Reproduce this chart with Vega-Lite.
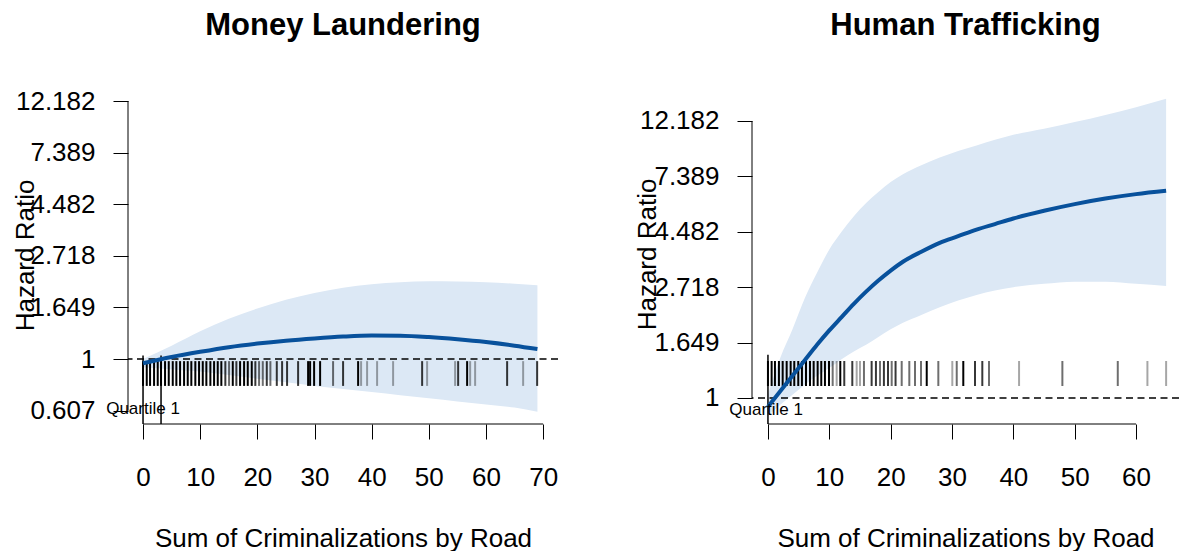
{
  "$schema": "https://vega.github.io/schema/vega-lite/v6.json",
  "padding": {"left": 12, "top": 9, "right": 0, "bottom": 0},
  "background": "white",
  "spacing": 194,
  "bounds": "flush",
  "config": {"font": "Liberation Sans", "view": {"stroke": null}},
  "datasets": {
    "ml_curve": [
      {"v": 0, "fit": -0.04, "lower": -0.08, "upper": 0.0},
      {"v": 5, "fit": 0.02, "lower": -0.1, "upper": 0.13},
      {"v": 10, "fit": 0.07, "lower": -0.12, "upper": 0.27},
      {"v": 15, "fit": 0.115, "lower": -0.155, "upper": 0.39},
      {"v": 20, "fit": 0.15, "lower": -0.19, "upper": 0.49},
      {"v": 25, "fit": 0.178, "lower": -0.225, "upper": 0.575},
      {"v": 30, "fit": 0.2, "lower": -0.26, "upper": 0.64},
      {"v": 35, "fit": 0.218, "lower": -0.29, "upper": 0.69},
      {"v": 40, "fit": 0.228, "lower": -0.32, "upper": 0.725},
      {"v": 45, "fit": 0.226, "lower": -0.35, "upper": 0.745},
      {"v": 50, "fit": 0.213, "lower": -0.38, "upper": 0.754},
      {"v": 55, "fit": 0.192, "lower": -0.41, "upper": 0.752},
      {"v": 60, "fit": 0.165, "lower": -0.44, "upper": 0.745},
      {"v": 65, "fit": 0.13, "lower": -0.47, "upper": 0.73},
      {"v": 69, "fit": 0.097, "lower": -0.51, "upper": 0.716}
    ],
    "ml_rug": [
      {"v":0,"n":4},{"v":0.65,"n":4},{"v":1.23,"n":4},{"v":1.93,"n":4},{"v":2.57,"n":4},{"v":3.15,"n":4},{"v":3.85,"n":4},{"v":4.5,"n":4},{"v":5.2,"n":4},{"v":5.83,"n":4},{"v":6.48,"n":4},{"v":7.18,"n":4},{"v":7.82,"n":4},{"v":8.45,"n":4},{"v":9.15,"n":4},{"v":9.8,"n":4},{"v":10.45,"n":4},{"v":11.08,"n":4},{"v":11.78,"n":4},{"v":12.43,"n":4},{"v":13.07,"n":4},{"v":13.7,"n":4},{"v":14.4,"n":3},{"v":15.05,"n":2},{"v":15.7,"n":4},{"v":16.33,"n":3},{"v":16.98,"n":4},{"v":17.68,"n":4},{"v":18.32,"n":4},{"v":19.02,"n":4},{"v":19.65,"n":3},{"v":20.3,"n":2},{"v":20.95,"n":2},{"v":21.65,"n":3},{"v":22.28,"n":2},{"v":23.4,"n":3},{"v":24.33,"n":3},{"v":25.2,"n":3},{"v":27.13,"n":3},{"v":28.88,"n":4},{"v":29.23,"n":4},{"v":29.93,"n":4},{"v":30.98,"n":4},{"v":33.25,"n":2},{"v":35.0,"n":3},{"v":37.63,"n":4},{"v":38.15,"n":1},{"v":39.2,"n":1},{"v":40.95,"n":1},{"v":43.75,"n":1},{"v":48.83,"n":3},{"v":49.7,"n":1},{"v":54.6,"n":1},{"v":55.13,"n":3},{"v":56.7,"n":4},{"v":57.23,"n":1},{"v":58.1,"n":1},{"v":63.7,"n":3},{"v":66.5,"n":1},{"v":68.95,"n":3}
    ],
    "ml_quart": [{"v": 0}, {"v": 3.15}],
    "ht_curve": [
      {"v": 0, "fit": -0.08, "lower": -0.16, "upper": 0.03},
      {"v": 2, "fit": 0.06, "lower": -0.06, "upper": 0.36},
      {"v": 4, "fit": 0.2, "lower": 0.03, "upper": 0.62},
      {"v": 6, "fit": 0.34, "lower": 0.12, "upper": 0.9},
      {"v": 8, "fit": 0.48, "lower": 0.2, "upper": 1.13},
      {"v": 10, "fit": 0.61, "lower": 0.27, "upper": 1.34},
      {"v": 12, "fit": 0.73, "lower": 0.35, "upper": 1.5},
      {"v": 14, "fit": 0.85, "lower": 0.42, "upper": 1.64},
      {"v": 16, "fit": 0.96, "lower": 0.48, "upper": 1.76},
      {"v": 18, "fit": 1.06, "lower": 0.55, "upper": 1.86},
      {"v": 20, "fit": 1.15, "lower": 0.62, "upper": 1.95},
      {"v": 22, "fit": 1.23, "lower": 0.68, "upper": 2.02},
      {"v": 25, "fit": 1.32, "lower": 0.75, "upper": 2.1},
      {"v": 28, "fit": 1.4, "lower": 0.82, "upper": 2.17},
      {"v": 31, "fit": 1.46, "lower": 0.88, "upper": 2.23},
      {"v": 34, "fit": 1.52, "lower": 0.93, "upper": 2.28},
      {"v": 37, "fit": 1.57, "lower": 0.97, "upper": 2.33},
      {"v": 40, "fit": 1.62, "lower": 1.0, "upper": 2.375},
      {"v": 45, "fit": 1.69, "lower": 1.03, "upper": 2.43},
      {"v": 50, "fit": 1.75, "lower": 1.05, "upper": 2.49},
      {"v": 55, "fit": 1.8, "lower": 1.05, "upper": 2.555},
      {"v": 60, "fit": 1.84, "lower": 1.03, "upper": 2.625},
      {"v": 64.9, "fit": 1.87, "lower": 1.01, "upper": 2.7}
    ],
    "ht_rug": [
      {"v":0,"n":4},{"v":0.6,"n":4},{"v":1.14,"n":4},{"v":1.79,"n":4},{"v":2.4,"n":4},{"v":3.05,"n":4},{"v":3.7,"n":4},{"v":4.29,"n":4},{"v":4.94,"n":4},{"v":5.54,"n":4},{"v":6.2,"n":4},{"v":6.85,"n":4},{"v":7.45,"n":4},{"v":8.1,"n":4},{"v":8.69,"n":4},{"v":9.29,"n":4},{"v":9.95,"n":4},{"v":10.55,"n":2},{"v":11.2,"n":1},{"v":11.79,"n":4},{"v":12.44,"n":3},{"v":13.75,"n":3},{"v":14.46,"n":1},{"v":15.0,"n":1},{"v":15.65,"n":2},{"v":16.9,"n":3},{"v":17.6,"n":3},{"v":18.26,"n":2},{"v":18.9,"n":3},{"v":19.57,"n":3},{"v":20.17,"n":2},{"v":20.8,"n":3},{"v":21.8,"n":2},{"v":23.04,"n":2},{"v":23.97,"n":2},{"v":24.95,"n":2},{"v":25.88,"n":4},{"v":27.77,"n":2},{"v":30.05,"n":1},{"v":30.77,"n":2},{"v":31.84,"n":4},{"v":33.75,"n":3},{"v":34.94,"n":3},{"v":36.03,"n":2},{"v":40.93,"n":1},{"v":47.99,"n":2},{"v":57.02,"n":2},{"v":61.85,"n":1},{"v":64.9,"n":1}
    ],
    "ht_quart": [{"v": 0}]
  },
  "hconcat": [
    {
      "width": 430,
      "height": 323,
      "title": {"text": "Money Laundering", "fontSize": 31, "fontWeight": "bold", "anchor": "middle", "baseline": "alphabetic", "offset": 22, "color": "black"},
      "layer": [
        {
          "data": {"name": "ml_curve"},
          "mark": {"type": "area", "color": "#DCE8F5", "interpolate": "monotone"},
          "encoding": {
            "x": {"field": "v", "type": "quantitative", "scale": {"domain": [-2.63, 72.6], "nice": false, "zero": false},
              "axis": {"values": [0,10,20,30,40,50,60,70], "domain": false, "grid": false, "tickSize": 15, "tickColor": "black", "tickWidth": 1, "labelFontSize": 26, "labelColor": "black", "labelBaseline": "alphabetic", "labelPadding": 46, "labelFlush": false, "labelOverlap": false, "title": "Sum of Criminalizations by Road", "titleFontSize": 26, "titleFontWeight": "normal", "titleColor": "black", "titleY": 122, "titleBaseline": "alphabetic"}},
            "y": {"field": "lower", "type": "quantitative", "scale": {"domain": [-0.629, 2.5], "nice": false, "zero": false},
              "axis": {"values": [-0.5,0,0.5,1,1.5,2,2.5], "labelExpr": "datum.value == 0 ? '1' : format(exp(datum.value), '.3f')", "domain": false, "grid": false, "tickSize": 15, "tickColor": "black", "tickWidth": 1, "labelFontSize": 26, "labelColor": "black", "labelPadding": 18, "labelBaseline": "middle", "labelAlign": "right", "labelFlush": false, "labelOverlap": false, "title": "Hazard Ratio", "titleFontSize": 26, "titleFontWeight": "normal", "titleColor": "black", "titleX": -103, "titleY": 154, "titleAngle": 270, "titleBaseline": "middle", "titleAlign": "center"}},
            "y2": {"field": "upper"}
          }
        },
        {
          "data": {"values": [{}]},
          "mark": {"type": "rule", "strokeDash": [7, 4.5], "strokeWidth": 1.5, "color": "black"},
          "encoding": {"y": {"datum": 0}}
        },
        {
          "data": {"name": "ml_rug"},
          "mark": {"type": "rule", "strokeWidth": 2, "color": "black"},
          "encoding": {
            "x": {"field": "v", "type": "quantitative"},
            "y": {"datum": -0.02},
            "y2": {"datum": -0.26},
            "opacity": {"field": "n", "type": "quantitative", "scale": {"domain": [1, 4], "range": [0.35, 1], "clamp": true}, "legend": null}
          }
        },
        {
          "data": {"name": "ml_quart"},
          "mark": {"type": "rule", "strokeWidth": 1.5, "color": "black"},
          "encoding": {
            "x": {"field": "v", "type": "quantitative"},
            "y": {"datum": -0.629},
            "y2": {"datum": 0.035}
          }
        },
        {
          "data": {"name": "ml_curve"},
          "mark": {"type": "line", "color": "#08519C", "strokeWidth": 4, "interpolate": "monotone"},
          "encoding": {
            "x": {"field": "v", "type": "quantitative"},
            "y": {"field": "fit", "type": "quantitative"}
          }
        },
        {
          "data": {"values": [{"label": "Quartile 1"}]},
          "mark": {"type": "text", "fontSize": 17, "baseline": "alphabetic", "align": "center", "color": "black"},
          "encoding": {"x": {"datum": 0}, "y": {"datum": -0.532}, "text": {"field": "label"}}
        },
        {
          "data": {"values": [{}]},
          "mark": {"type": "rule", "color": "black", "strokeWidth": 1},
          "encoding": {"x": {"datum": -2.63}, "y": {"datum": -0.5}, "y2": {"datum": 2.5}}
        },
        {
          "data": {"values": [{}]},
          "mark": {"type": "rule", "color": "black", "strokeWidth": 1},
          "encoding": {"x": {"datum": 0}, "x2": {"datum": 70}, "y": {"datum": -0.629}}
        }
      ]
    },
    {
      "width": 427,
      "height": 323,
      "title": {"text": "Human Trafficking", "fontSize": 31, "fontWeight": "bold", "anchor": "middle", "baseline": "alphabetic", "offset": 33, "color": "black"},
      "layer": [
        {
          "data": {"name": "ht_curve"},
          "mark": {"type": "area", "color": "#DCE8F5", "interpolate": "monotone"},
          "encoding": {
            "x": {"field": "v", "type": "quantitative", "scale": {"domain": [-2.6, 67], "nice": false, "zero": false},
              "axis": {"values": [0,10,20,30,40,50,60], "domain": false, "grid": false, "tickSize": 15, "tickColor": "black", "tickWidth": 1, "labelFontSize": 26, "labelColor": "black", "labelBaseline": "alphabetic", "labelPadding": 46, "labelFlush": false, "labelOverlap": false, "title": "Sum of Criminalizations by Road", "titleFontSize": 26, "titleFontWeight": "normal", "titleColor": "black", "titleY": 122, "titleBaseline": "alphabetic"}},
            "y": {"field": "lower", "type": "quantitative", "scale": {"domain": [-0.2347, 2.6805], "nice": false, "zero": false},
              "axis": {"values": [0,0.5,1,1.5,2,2.5], "labelExpr": "datum.value == 0 ? '1' : format(exp(datum.value), '.3f')", "domain": false, "grid": false, "tickSize": 15, "tickColor": "black", "tickWidth": 1, "labelFontSize": 26, "labelColor": "black", "labelPadding": 18, "labelBaseline": "middle", "labelAlign": "right", "labelFlush": false, "labelOverlap": false, "title": "Hazard Ratio", "titleFontSize": 26, "titleFontWeight": "normal", "titleColor": "black", "titleX": -105, "titleY": 153, "titleAngle": 270, "titleBaseline": "middle", "titleAlign": "center"}},
            "y2": {"field": "upper"}
          }
        },
        {
          "data": {"values": [{}]},
          "mark": {"type": "rule", "strokeDash": [7, 4.5], "strokeWidth": 1.5, "color": "black"},
          "encoding": {"y": {"datum": 0}}
        },
        {
          "data": {"name": "ht_rug"},
          "mark": {"type": "rule", "strokeWidth": 2, "color": "black"},
          "encoding": {
            "x": {"field": "v", "type": "quantitative"},
            "y": {"datum": 0.334},
            "y2": {"datum": 0.108},
            "opacity": {"field": "n", "type": "quantitative", "scale": {"domain": [1, 4], "range": [0.35, 1], "clamp": true}, "legend": null}
          }
        },
        {
          "data": {"name": "ht_quart"},
          "mark": {"type": "rule", "strokeWidth": 1.5, "color": "black"},
          "encoding": {
            "x": {"field": "v", "type": "quantitative"},
            "y": {"datum": -0.2347},
            "y2": {"datum": 0.39}
          }
        },
        {
          "data": {"name": "ht_curve"},
          "mark": {"type": "line", "color": "#08519C", "strokeWidth": 4, "interpolate": "monotone"},
          "encoding": {
            "x": {"field": "v", "type": "quantitative"},
            "y": {"field": "fit", "type": "quantitative"}
          }
        },
        {
          "data": {"values": [{"label": "Quartile 1"}]},
          "mark": {"type": "text", "fontSize": 17, "baseline": "alphabetic", "align": "center", "color": "black"},
          "encoding": {"x": {"datum": -0.3}, "y": {"datum": -0.153}, "text": {"field": "label"}}
        },
        {
          "data": {"values": [{}]},
          "mark": {"type": "rule", "color": "black", "strokeWidth": 1},
          "encoding": {"x": {"datum": -2.6}, "y": {"datum": 0}, "y2": {"datum": 2.5}}
        },
        {
          "data": {"values": [{}]},
          "mark": {"type": "rule", "color": "black", "strokeWidth": 1},
          "encoding": {"x": {"datum": 0}, "x2": {"datum": 60}, "y": {"datum": -0.2347}}
        }
      ]
    }
  ]
}
